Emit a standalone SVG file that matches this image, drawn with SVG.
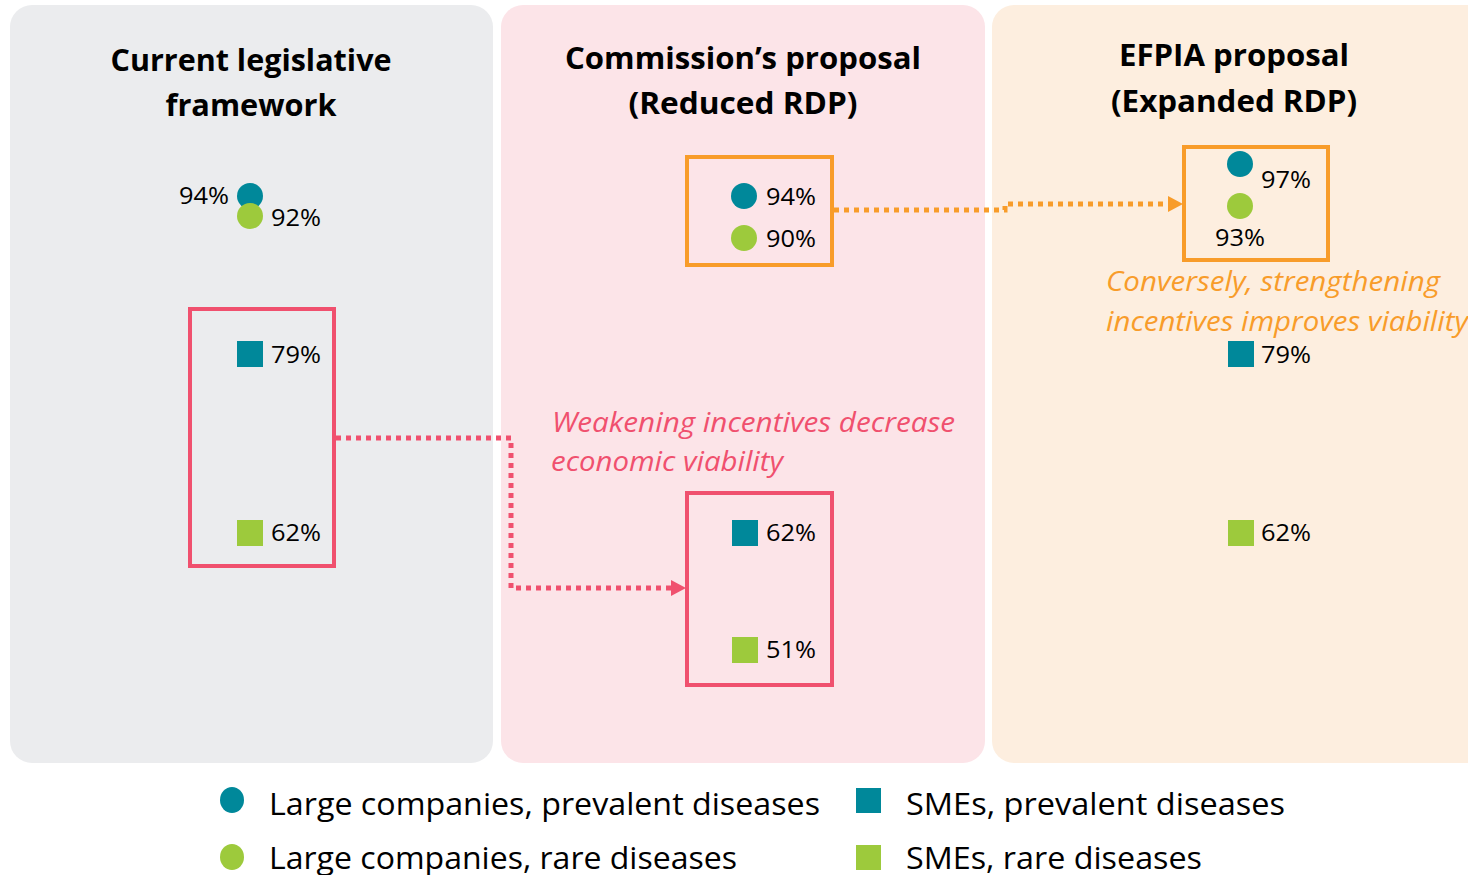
<svg xmlns="http://www.w3.org/2000/svg" width="1468" height="875" viewBox="0 0 1468 875">
<style>
text{font-family:"Open Sans","Noto Sans","Liberation Sans",sans-serif;}
.title{font-size:31px;font-weight:bold;fill:#000;text-anchor:middle;}
.pct{font-size:24px;fill:#000;}
.leg{font-size:31px;fill:#000;}
.note{font-size:27px;font-style:italic;}
.teal{fill:#00889A;}
.green{fill:#9DCA3C;}
.pinkbox{fill:none;stroke:#F0506E;stroke-width:4;}
.orangebox{fill:none;stroke:#F89C2A;stroke-width:4;}
.dots{fill:none;stroke-width:5;stroke-dasharray:5 5;}
</style>
<rect width="1468" height="875" fill="#fff"/>
<g id="panel-current">
<rect x="10" y="5" width="483" height="758" rx="22" fill="#EBECEE"/>
<text class="title" x="251" y="71" textLength="281" lengthAdjust="spacingAndGlyphs">Current legislative</text>
<text class="title" x="251" y="116" textLength="171" lengthAdjust="spacingAndGlyphs">framework</text>
</g>
<g id="panel-commission">
<rect x="501" y="5" width="484" height="758" rx="22" fill="#FCE4E8"/>
<text class="title" x="743" y="69" textLength="356" lengthAdjust="spacingAndGlyphs">Commission’s proposal</text>
<text class="title" x="743" y="114" textLength="229" lengthAdjust="spacingAndGlyphs">(Reduced RDP)</text>
</g>
<g id="panel-efpia">
<path d="M1014,5 H1468 V763 H1014 A22,22 0 0 1 992,741 V27 A22,22 0 0 1 1014,5 z" fill="#FDEEDF"/>
<text class="title" x="1234" y="66" textLength="230" lengthAdjust="spacingAndGlyphs">EFPIA proposal</text>
<text class="title" x="1234" y="112" textLength="246" lengthAdjust="spacingAndGlyphs">(Expanded RDP)</text>
</g>
<g id="current-large">
<circle class="teal" cx="250" cy="196" r="13"/>
<circle class="green" cx="250" cy="216" r="13"/>
<text class="pct" x="229" y="204" text-anchor="end" textLength="50" lengthAdjust="spacingAndGlyphs">94%</text>
<text class="pct" x="271" y="226" textLength="50" lengthAdjust="spacingAndGlyphs">92%</text>
</g>
<g id="current-sme">
<rect class="pinkbox" x="190" y="309" width="144" height="257"/>
<rect class="teal" x="237" y="341" width="26" height="26"/>
<text class="pct" x="271" y="363" textLength="50" lengthAdjust="spacingAndGlyphs">79%</text>
<rect class="green" x="237" y="520" width="26" height="26"/>
<text class="pct" x="271" y="541" textLength="50" lengthAdjust="spacingAndGlyphs">62%</text>
</g>
<g id="commission-large">
<rect class="orangebox" x="687" y="157" width="145" height="108"/>
<circle class="teal" cx="744" cy="196" r="13"/>
<text class="pct" x="766" y="205" textLength="50" lengthAdjust="spacingAndGlyphs">94%</text>
<circle class="green" cx="744" cy="238" r="13"/>
<text class="pct" x="766" y="247" textLength="50" lengthAdjust="spacingAndGlyphs">90%</text>
</g>
<g id="commission-sme">
<rect class="pinkbox" x="687" y="493" width="145" height="192"/>
<rect class="teal" x="732" y="520" width="26" height="26"/>
<text class="pct" x="766" y="541" textLength="50" lengthAdjust="spacingAndGlyphs">62%</text>
<rect class="green" x="732" y="637" width="26" height="26"/>
<text class="pct" x="766" y="658" textLength="50" lengthAdjust="spacingAndGlyphs">51%</text>
<text class="note" x="552" y="432" fill="#F0506E" textLength="403" lengthAdjust="spacingAndGlyphs">Weakening incentives decrease</text>
<text class="note" x="551" y="471" fill="#F0506E" textLength="232" lengthAdjust="spacingAndGlyphs">economic viability</text>
</g>
<g id="efpia-large">
<rect class="orangebox" x="1184" y="147" width="144" height="113"/>
<circle class="teal" cx="1240" cy="164" r="13"/>
<text class="pct" x="1261" y="188" textLength="50" lengthAdjust="spacingAndGlyphs">97%</text>
<circle class="green" cx="1240" cy="206" r="13"/>
<text class="pct" x="1215" y="246" textLength="50" lengthAdjust="spacingAndGlyphs">93%</text>
<text class="note" x="1106" y="291" fill="#F89C2A" textLength="334" lengthAdjust="spacingAndGlyphs">Conversely, strengthening</text>
<text class="note" x="1106" y="331" fill="#F89C2A" textLength="362" lengthAdjust="spacingAndGlyphs">incentives improves viability</text>
</g>
<g id="efpia-sme">
<rect class="teal" x="1228" y="341" width="26" height="26"/>
<text class="pct" x="1261" y="363" textLength="50" lengthAdjust="spacingAndGlyphs">79%</text>
<rect class="green" x="1228" y="520" width="26" height="26"/>
<text class="pct" x="1261" y="541" textLength="50" lengthAdjust="spacingAndGlyphs">62%</text>
</g>
<g id="connectors">
<path class="dots" d="M336,438 H511 V588 H672" stroke="#F0506E"/>
<polygon points="671,580 686,588 671,596" fill="#F0506E"/>
<path class="dots" d="M834,210 H1005 V204 H1169" stroke="#F89C2A"/>
<polygon points="1168,196 1183,204 1168,212" fill="#F89C2A"/>
</g>
<g id="legend">
<ellipse class="teal" cx="232" cy="800" rx="12" ry="13"/>
<text class="leg" x="269" y="815" textLength="551" lengthAdjust="spacingAndGlyphs">Large companies, prevalent diseases</text>
<ellipse class="green" cx="232" cy="857" rx="12" ry="13"/>
<text class="leg" x="269" y="869" textLength="468" lengthAdjust="spacingAndGlyphs">Large companies, rare diseases</text>
<rect class="teal" x="856" y="788" width="25" height="25"/>
<text class="leg" x="906" y="815" textLength="379" lengthAdjust="spacingAndGlyphs">SMEs, prevalent diseases</text>
<rect class="green" x="856" y="845" width="25" height="25"/>
<text class="leg" x="906" y="869" textLength="296" lengthAdjust="spacingAndGlyphs">SMEs, rare diseases</text>
</g>
</svg>
